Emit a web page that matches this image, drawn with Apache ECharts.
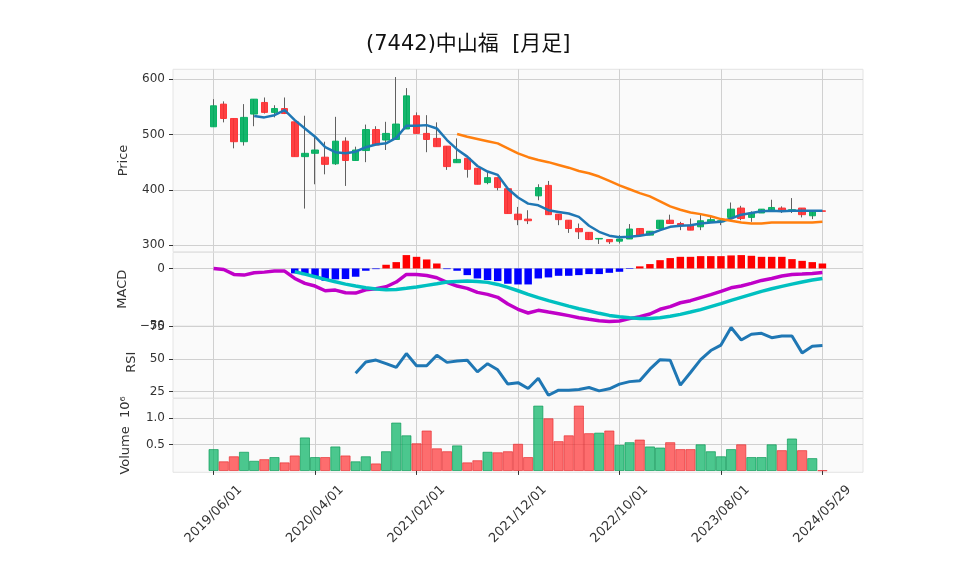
<!DOCTYPE html>
<html><head><meta charset="utf-8">
<script src="https://cdn.jsdelivr.net/npm/echarts@6/dist/echarts.min.js"></script>
<style>html,body{margin:0;padding:0;background:#fff}#c{width:958px;height:575px}</style>
</head><body><div id="c"></div>
<script>
const dates = ['2019/06/01','2019/07/01','2019/08/01','2019/09/01','2019/10/01','2019/11/01','2019/12/01',
'2020/01/01','2020/02/01','2020/03/01','2020/04/01','2020/05/01','2020/06/01','2020/07/01','2020/08/01','2020/09/01','2020/10/01','2020/11/01','2020/12/01',
'2021/01/01','2021/02/01','2021/03/01','2021/04/01','2021/05/01','2021/06/01','2021/07/01','2021/08/01','2021/09/01','2021/10/01','2021/11/01','2021/12/01',
'2022/01/01','2022/02/01','2022/03/01','2022/04/01','2022/05/01','2022/06/01','2022/07/01','2022/08/01','2022/09/01','2022/10/01','2022/11/01','2022/12/01',
'2023/01/01','2023/02/01','2023/03/01','2023/04/01','2023/05/01','2023/06/01','2023/07/01','2023/08/01','2023/09/01','2023/10/01','2023/11/01','2023/12/01',
'2024/01/01','2024/02/01','2024/03/01','2024/04/01','2024/05/01','2024/05/29'];
const open  = [514,555,529,487,537,558,540,547,523,460, 466,459,447,488,453,471,509,490,491,510, 534,502,493,479,449,457,439,413,422,402, 356,347,389,408,356,345,330,323,311,310, 307,311,330,318,330,345,339,336,333,342, 342,350,367,350,358,362,367,362,367,353, 362];
const close = [552,529,487,531,564,540,547,538,460,466, 472,446,488,453,472,509,481,502,519,570, 502,491,478,442,455,437,410,422,404,357, 346,344,404,355,346,330,324,310,312,306, 311,329,318,325,345,339,336,327,344,346, 344,365,348,358,365,368,361,364,355,362, 361];
const low   = [514,522,475,480,515,538,531,537,460,366, 410,428,445,407,453,450,481,472,491,510, 502,468,478,436,449,422,410,410,399,357, 336,338,381,355,336,322,311,309,302,302, 303,311,318,318,330,339,327,327,327,341, 336,350,345,342,358,362,358,358,350,347, 361];
const high  = [564,560,529,555,564,567,553,567,523,534, 496,487,532,495,478,518,515,523,604,584, 540,535,522,479,493,457,439,433,422,402, 369,363,410,416,356,345,339,323,312,310, 318,338,330,325,345,355,342,348,355,352, 348,377,371,361,365,382,370,385,367,362, 362];
const volume = [0.41,0.18,0.275,0.36,0.19,0.22,0.26,0.16,0.29,0.63, 0.26,0.26,0.46,0.29,0.18,0.275,0.14,0.37,0.91,0.67, 0.52,0.76,0.425,0.37,0.48,0.16,0.20,0.36,0.35,0.37, 0.51,0.26,1.23,0.99,0.56,0.67,1.23,0.71,0.72,0.76, 0.49,0.54,0.59,0.46,0.44,0.54,0.41,0.41,0.50,0.37, 0.275,0.41,0.50,0.26,0.26,0.50,0.39,0.61,0.39,0.24, 0.01];
const ma5 = [null,null,null,null,533.5,531,535,544,526,511, 496,477,468,466,469,477,482,484,494,516, 516,517,511,490,473,460,443,433,427,402, 386,375,372,363,360,357,351,335,324,317, 314,315,317,320,327,333,335,336,339,341, 342,348,355,358,361,362,361,362,362,362, 362];
const ma25 = [null,null,null,null,null,null,null,null,null,null, null,null,null,null,null,null,null,null,null,null, null,null,null,null,501,496,492,488,484,475, 466,459,454,450,445,440,434,430,424,416, 408,401,394,388,379,370,364,359,356,352, 347,344,341,339,339,341,341,341,341,341, 342];
const macd = [0,-0.9,-5.2,-5.8,-3.8,-3.2,-2.3,-2.3,-8.7,-13, -15.3,-19.4,-18.8,-21.1,-21.4,-18.5,-17.6,-15.9,-11.8,-5.2, -5.2,-6.1,-8.1,-12.1,-15.3,-17.3,-20.8,-22.5,-25.1,-30.9, -35.5,-38.7,-36.4,-37.9,-39.3,-41,-42.8,-44.2,-45.4,-46, -45.7,-43.6,-41.9,-39.6,-35.5,-33.2,-29.8,-28,-25.4,-22.8, -19.9,-16.8,-15.3,-13,-10.4,-8.7,-6.6,-5.2,-4.9,-4.3, -3.5];
const signal = [null,null,null,null,null,null,null,null,-2.9,-4.9, -7.2,-9.5,-11.6,-13.6,-15.3,-16.8,-17.9,-18.5,-18.2,-17.3, -16.2,-14.7,-13.3,-11.8,-11.3,-11,-11.3,-12.1,-13.9,-16.5, -19.4,-22.5,-25.4,-28,-30.3,-32.7,-35,-37,-39,-40.8, -41.9,-42.8,-43.4,-43.4,-42.8,-41.6,-39.9,-37.9,-35.8,-33.2, -30.6,-27.7,-25.1,-22.5,-19.9,-17.6,-15.6,-13.6,-11.8,-10.1, -8.7];
const hist = [null,null,null,null,null,null,null,null,-4.3,-5.8, -7.2,-10.7,-9.5,-9.2,-7.2,-2,-0.6,3.2,5.5,11.6, 10.1,7.8,4.3,-0.6,-2,-5.8,-8.7,-10.1,-11,-13.3, -13.9,-13.9,-8.7,-7.8,-6.4,-6.4,-5.8,-4.9,-4.9,-3.8, -2.9,-0.5,1.8,3.8,7.2,9,10.1,10.1,10.7,10.7, 10.7,11.3,11.6,11,10.1,10.1,10.1,8.1,6.6,5.5, 4.3];
const rsi = [null,null,null,null,null,null,null,null,null,null, null,null,null,null,39.1,47.7,49.2,46.4,43.5,54.2, 44.8,44.8,52.9,47.4,48.4,49,40.1,46.4,41.7,30.7, 31.8,27.3,35.2,22.1,26,26,26.6,28.1,25.5,27.1, 30.7,32.6,33.3,42.2,49.5,49,29.9,39.6,49.5,56.5, 60.7,74.2,64.6,69,69.8,66.4,67.7,67.7,54.7,59.9, 60.4];
const priceTicks = [300,400,500,600];
const macdTicks = [-50,0];
const rsiTicks = [25,50,75];
const volTicks = [0.5,1.0];
const titleText = '(7442)中山福  [月足]';

const FONT = "'DejaVu Sans', 'Noto Sans CJK JP', sans-serif";
const PADL = 4, PADR = 4;
const cats = [...Array(PADL).fill(''), ...dates, ...Array(PADR).fill('')];
function pad(arr){ return [...Array(PADL).fill('-'), ...arr.map(v => (v==null?'-':v)), ...Array(PADR).fill('-')]; }
function padItems(arr){ return [...Array(PADL).fill('-'), ...arr, ...Array(PADR).fill('-')]; }
const tickIdx = (idx) => { const d = idx - PADL; return d >= 0 && d <= 60 && d % 10 === 0; };

const wickData = padItems(dates.map((d,i) => [open[i], close[i], low[i], high[i]]));
const bodyData = padItems(dates.map((d,i) => [open[i], close[i], Math.min(open[i],close[i]), Math.max(open[i],close[i])]));
const volData = padItems(volume.map((v,i) => ({
  value: v,
  itemStyle: close[i] >= open[i]
    ? {color:'rgba(0,176,96,0.7)', borderColor:'rgba(0,150,80,0.8)'}
    : {color:'rgba(254,48,50,0.7)', borderColor:'rgba(230,40,42,0.8)'}
})));
const histData = padItems(hist.map(v => v==null ? '-' : ({value:v, itemStyle:{color: v>=0 ? '#ff0000' : '#0000ff'}})));

const L = 173, W = 690;
const grids = [
  {left:L, width:W, top:69.3, height:182.4},
  {left:L, width:W, top:252.5, height:73.5},
  {left:L, width:W, top:326.5, height:71.5},
  {left:L, width:W, top:398.5, height:73.8}
].map(g => Object.assign(g, {show:true, backgroundColor:'#fafafa', borderColor:'#e4e4e4', borderWidth:1}));

const gridLine = {show:true, lineStyle:{color:'#d0d0d0', width:1}};
const xAxes = grids.map((g,i) => ({
  type:'category', gridIndex:i, data:cats, boundaryGap:false,
  axisLine:{show:false},
  axisTick:{show:i===3, interval:tickIdx, length:4, lineStyle:{color:'#333'}},
  axisLabel:{show:i===3, interval:tickIdx, rotate:45, align:'center', verticalAlign:'middle', margin:42,
    fontSize:13, color:'#333', fontFamily:FONT},
  splitLine:Object.assign({interval:tickIdx}, gridLine)
}));
function yAx(i, min, max, ticks, name, gap, fmt){
  return {type:'value', gridIndex:i, min:min, max:max, scale:true,
    name:name, nameLocation:'middle', nameGap:gap,
    nameTextStyle:{fontSize:13, color:'#333', fontFamily:FONT},
    axisLine:{show:false},
    axisTick:{show:true, length:4, lineStyle:{color:'#333'}, customValues:ticks},
    axisLabel:{fontSize:12, color:'#333', fontFamily:FONT, margin:8, customValues:ticks, formatter:fmt},
    splitLine:gridLine};
}
const minus = v => (v < 0 ? '\u2212' + Math.abs(v) : String(v));
const yAxes = [
  yAx(0, 288, 618, priceTicks, 'Price', 43, v => String(v)),
  yAx(1, -50, 13.85, macdTicks, 'MACD', 43, minus),
  yAx(2, 20, 75, rsiTicks, 'RSI', 35, v => String(v)),
  yAx(3, -0.026, 1.365, volTicks, 'Volume  10\u2076', 41, v => v.toFixed(1))
];

const chart = echarts.init(document.getElementById('c'), null, {renderer:'canvas'});
chart.setOption({
  animation:false,
  backgroundColor:'#ffffff',
  title:{text:titleText, left:366, top:34, padding:0,
    textStyle:{fontSize:21, fontWeight:'normal', color:'#111', fontFamily:FONT}},
  grid:grids, xAxis:xAxes, yAxis:yAxes,
  series:[
    {type:'candlestick', xAxisIndex:0, yAxisIndex:0, data:wickData, barWidth:1,
      itemStyle:{color:'#606060', color0:'#606060', borderColor:'#606060', borderColor0:'#606060', borderWidth:1}},
    {type:'candlestick', xAxisIndex:0, yAxisIndex:0, data:bodyData, barWidth:7,
      itemStyle:{color:'rgba(0,176,96,0.92)', color0:'rgba(254,48,50,0.92)', borderColor:'rgba(0,176,96,0.92)', borderColor0:'rgba(254,48,50,0.92)', borderWidth:1}},
    {type:'line', xAxisIndex:0, yAxisIndex:0, data:pad(ma5), showSymbol:false, symbol:'none',
      lineStyle:{color:'#1f77b4', width:2.5}, z:5},
    {type:'line', xAxisIndex:0, yAxisIndex:0, data:pad(ma25), showSymbol:false, symbol:'none',
      lineStyle:{color:'#ff7f0e', width:2.5}, z:5},
    {type:'bar', xAxisIndex:1, yAxisIndex:1, data:histData, barWidth:7.5},
    {type:'line', xAxisIndex:1, yAxisIndex:1, data:pad(macd), symbol:'none',
      lineStyle:{color:'#c000c8', width:3.5}, z:5},
    {type:'line', xAxisIndex:1, yAxisIndex:1, data:pad(signal), symbol:'none',
      lineStyle:{color:'#00c0c0', width:3.5}, z:5},
    {type:'line', xAxisIndex:2, yAxisIndex:2, data:pad(rsi), symbol:'none',
      lineStyle:{color:'#1f77b4', width:3}, z:5},
    {type:'bar', xAxisIndex:3, yAxisIndex:3, data:volData, barWidth:10, itemStyle:{borderWidth:0.8}}
  ]
});
</script></body></html>
